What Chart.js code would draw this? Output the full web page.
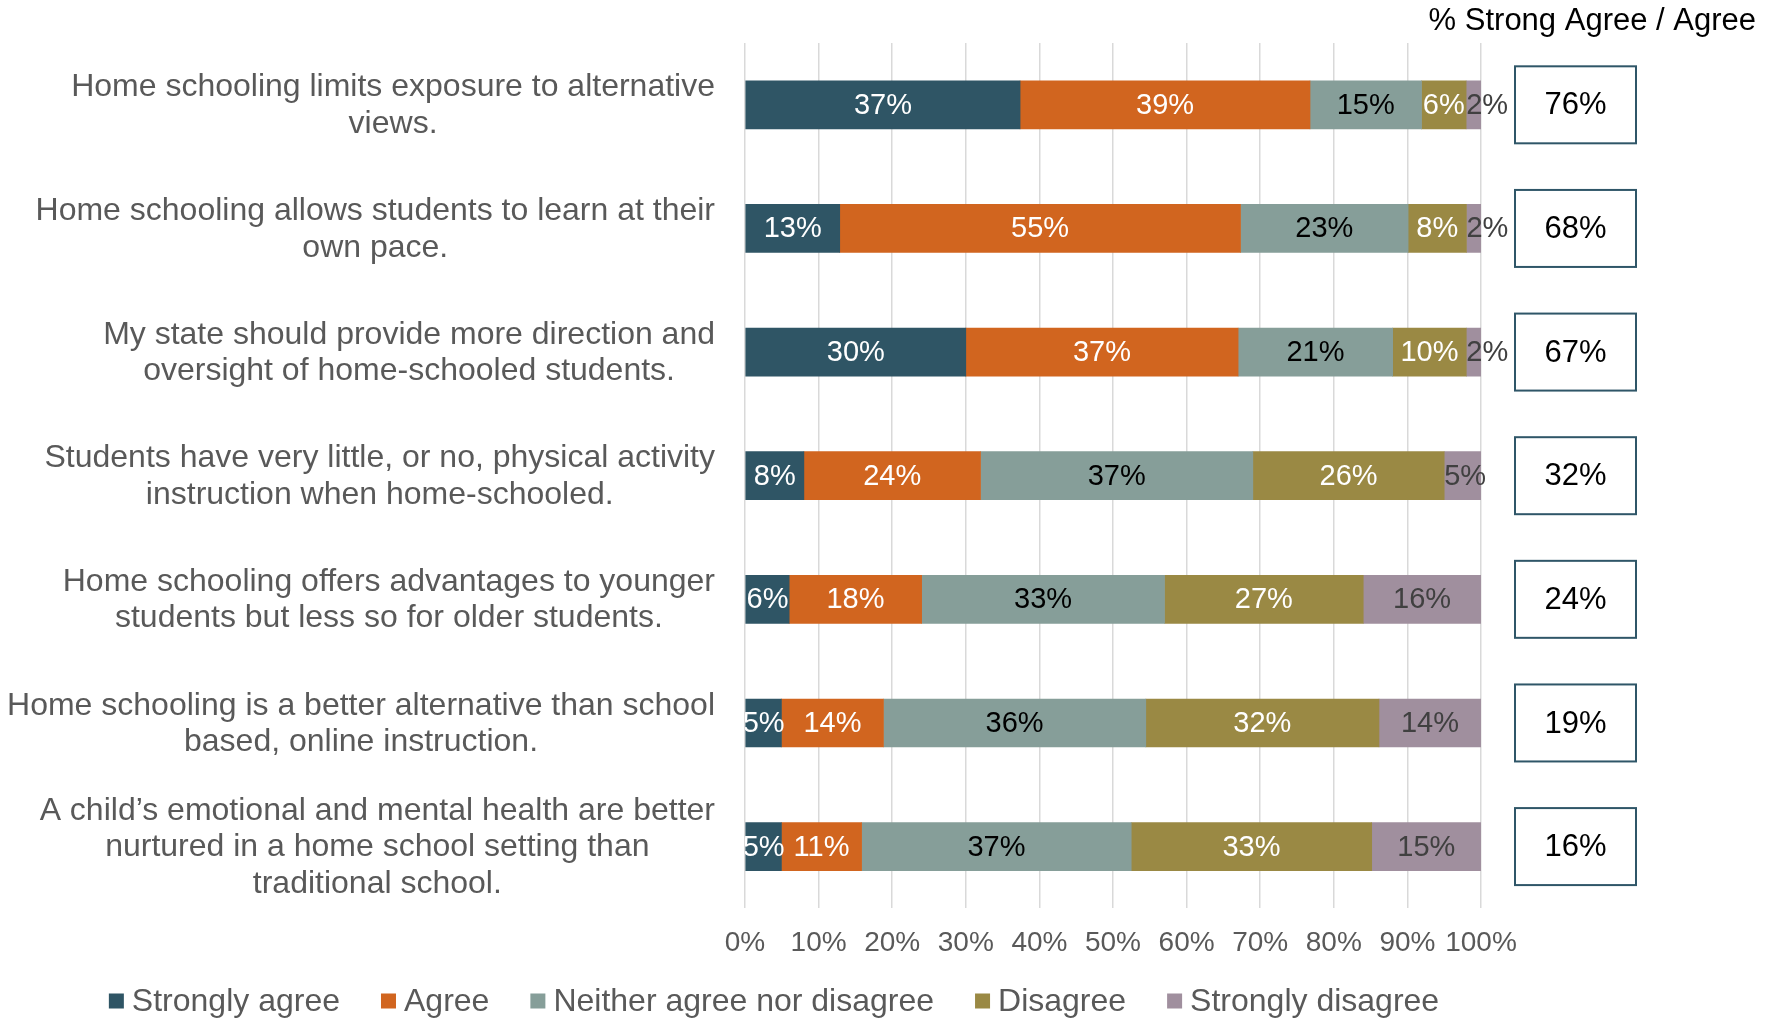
<!DOCTYPE html>
<html>
<head>
<meta charset="utf-8">
<script src="https://cdn.jsdelivr.net/npm/chart.js@4.4.1/dist/chart.umd.min.js"></script>
<style>
  html, body { margin: 0; padding: 0; background: #fff; overflow: hidden; }
  canvas { display: block; }
</style>
</head>
<body>
<canvas id="grafico" width="1775" height="1018"></canvas>
<script>
// Survey statements (line breaks as in the original)
const categorias = [
    ['Home schooling limits exposure to alternative', 'views.'],
    ['Home schooling allows students to learn at their', 'own pace.'],
    ['My state should provide more direction and', 'oversight of home-schooled students.'],
    ['Students have very little, or no, physical activity', 'instruction when home-schooled.'],
    ['Home schooling offers advantages to younger', 'students but less so for older students.'],
    ['Home schooling is a better alternative than school', 'based, online instruction.'],
    ['A child\u2019s emotional and mental health are better', 'nurtured in a home school setting than', 'traditional school.']
];

const series = ['Strongly agree', 'Agree', 'Neither agree nor disagree', 'Disagree', 'Strongly disagree'];

const stronglyAgree    = [37, 13, 30,  8,  6,  5,  5];
const agree            = [39, 55, 37, 24, 18, 14, 11];
const neither          = [15, 23, 21, 37, 33, 36, 37];
const disagree         = [ 6,  8, 10, 26, 27, 32, 33];
const stronglyDisagree = [ 2,  2,  2,  5, 16, 14, 15];
const topTwo           = [76, 68, 67, 32, 24, 19, 16];

const xTicks = ['0%', '10%', '20%', '30%', '40%', '50%', '60%', '70%', '80%', '90%', '100%'];

const CORES = ['#2F5565', '#D1651F', '#869E99', '#9A8944', '#A08F9E'];
const CORES_TEXTO = ['#ffffff', '#ffffff', '#000000', '#ffffff', '#404040'];
const FONTE = (px) => `${px}px "Liberation Sans", Arial, sans-serif`;

// 100% stacked: each row is scaled by its own total
const brutos = [stronglyAgree, agree, neither, disagree, stronglyDisagree];
const totais = categorias.map((_, i) => brutos.reduce((s, arr) => s + arr[i], 0));

const datasets = brutos.map((arr, k) => ({
    label: series[k],
    data: arr.map((v, i) => v / totais[i] * 100),
    raw: arr,
    labelColor: CORES_TEXTO[k],
    backgroundColor: CORES[k],
    borderWidth: 0,
    barThickness: 48
}));

// value labels inside the segments
const rotulosBarras = {
    id: 'rotulosBarras',
    afterDatasetsDraw(chart) {
        const { ctx, chartArea } = chart;
        ctx.save();
        ctx.beginPath();
        ctx.rect(chartArea.left, 0, chart.width - chartArea.left, chart.height);
        ctx.clip();
        ctx.font = FONTE(29);
        ctx.textBaseline = 'middle';
        chart.data.datasets.forEach((ds, di) => {
            chart.getDatasetMeta(di).data.forEach((el, i) => {
                const txt = ds.raw[i] + '%';
                const w = ctx.measureText(txt).width;
                const seg = el.x - el.base;
                ctx.fillStyle = ds.labelColor;
                if (di === chart.data.datasets.length - 1 && w > seg) {
                    ctx.textAlign = 'left';
                    ctx.fillText(txt, el.base, el.y + 1);
                } else {
                    ctx.textAlign = 'center';
                    ctx.fillText(txt, (el.x + el.base) / 2, el.y + 1);
                }
            });
        });
        ctx.restore();
    }
};

// statements on the left, boxes + header on the right, legend at the bottom
const extras = {
    id: 'extras',
    afterDraw(chart) {
        const { ctx, chartArea } = chart;
        const y = chart.scales.y;
        ctx.save();
        ctx.textBaseline = 'middle';

        ctx.font = FONTE(32);
        ctx.fillStyle = '#595959';
        ctx.textAlign = 'center';
        categorias.forEach((linhas, i) => {
            const cy = y.getPixelForValue(i);
            const maxW = Math.max(...linhas.map(l => ctx.measureText(l).width));
            const cx = chartArea.left - 30 - maxW / 2;
            linhas.forEach((l, k) => ctx.fillText(l, cx, cy + (k - (linhas.length - 1) / 2) * 36.5 + 1));
        });

        ctx.font = FONTE(31);
        ctx.fillStyle = '#000';
        ctx.textAlign = 'right';
        ctx.fillText('% Strong Agree / Agree', chartArea.right + 275, 21);

        const bx = chartArea.right + 34, bw = 121, bh = 77;
        ctx.strokeStyle = '#2F5668';
        ctx.lineWidth = 2;
        ctx.textAlign = 'center';
        topTwo.forEach((v, i) => {
            const cy = y.getPixelForValue(i);
            ctx.fillStyle = '#fff';
            ctx.fillRect(bx, cy - bh / 2, bw, bh);
            ctx.strokeRect(bx, cy - bh / 2, bw, bh);
            ctx.fillStyle = '#000';
            ctx.fillText(v + '%', bx + bw / 2, cy + 1);
        });

        // legend
        ctx.font = FONTE(32);
        const larguras = series.map(s => 15 + 8 + ctx.measureText(s).width);
        const total = larguras.reduce((a, b) => a + b, 0) + 41 * (series.length - 1);
        let lx = 774 - total / 2;
        const ly = 1001;
        ctx.textAlign = 'left';
        series.forEach((s, k) => {
            ctx.fillStyle = CORES[k];
            ctx.fillRect(lx, ly - 7.5, 15, 15);
            ctx.fillStyle = '#595959';
            ctx.fillText(s, lx + 23, ly + 1);
            lx += larguras[k] + 41;
        });
        ctx.restore();
    }
};

new Chart(document.getElementById('grafico'), {
    type: 'bar',
    data: { labels: categorias.map(c => c.join(' ')), datasets },
    plugins: [rotulosBarras, extras],
    options: {
        indexAxis: 'y',
        responsive: false,
        devicePixelRatio: 1,
        animation: false,
        layout: { padding: { left: 745, right: 294, top: 43, bottom: 40 } },
        plugins: { legend: { display: false }, tooltip: { enabled: false } },
        scales: {
            x: {
                stacked: true, min: 0, max: 100,
                border: { display: false },
                grid: { color: '#d9d9d9', lineWidth: 1.5, drawTicks: false },
                ticks: {
                    stepSize: 10, padding: 18, color: '#595959', font: { family: '"Liberation Sans", Arial, sans-serif', size: 28 },
                    maxRotation: 0, minRotation: 0, autoSkip: false,
                    callback: (v) => xTicks[Math.round(v / 10)]
                }
            },
            y: { stacked: true, display: false }
        }
    }
});
</script>
</body>
</html>
